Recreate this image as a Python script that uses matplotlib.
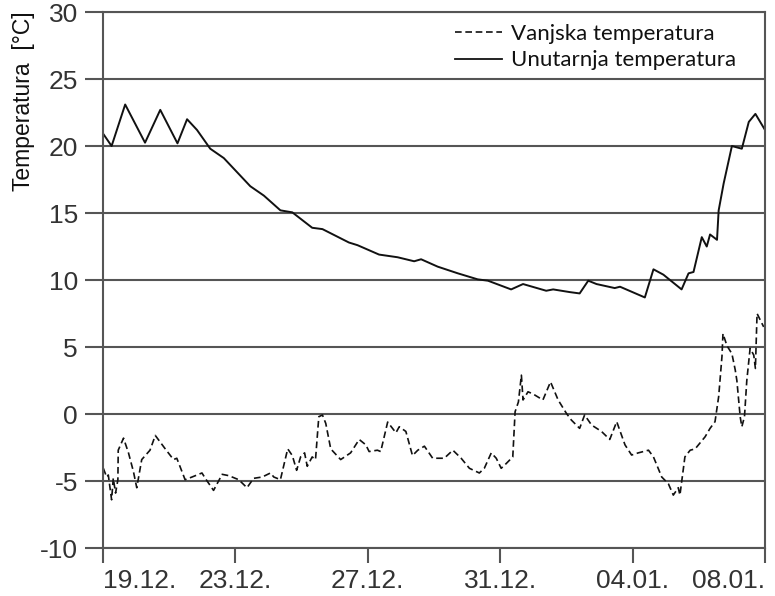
import matplotlib
matplotlib.use('Agg')
import matplotlib.pyplot as plt
from matplotlib.lines import Line2D

plt.rcParams['font.family'] = ['Liberation Sans', 'DejaVu Sans']
plt.rcParams['axes.unicode_minus'] = False

# days after 19.12.
inner_days = [0.01, 0.26, 0.67, 1.27, 1.73, 2.25, 2.54, 2.84, 3.24, 3.65, 4.45, 4.86,
              5.36, 5.72, 6.32, 6.63, 7.43, 7.69, 8.34, 8.90, 9.40, 9.61, 10.11, 10.72,
              11.32, 11.63, 12.33, 12.69, 13.39, 13.60, 14.10, 14.40, 14.66, 14.91, 15.46,
              15.62, 16.37, 16.63, 16.93, 17.48, 17.69, 17.84, 18.09, 18.24, 18.34, 18.55,
              18.60, 18.75, 19.00, 19.30, 19.51, 19.71, 20.00]
inner_temp = [20.9, 20.0, 23.1, 20.25, 22.7, 20.2, 22.0, 21.2, 19.8, 19.1, 17.0, 16.3,
              15.2, 15.05, 13.9, 13.8, 12.8, 12.6, 11.9, 11.7, 11.4, 11.55, 11.0, 10.5,
              10.05, 9.95, 9.3, 9.7, 9.2, 9.3, 9.1, 9.0, 9.95, 9.7, 9.4,
              9.5, 8.7, 10.8, 10.4, 9.3, 10.5, 10.6, 13.2, 12.5, 13.4, 13.0,
              15.2, 17.2, 20.0, 19.8, 21.8, 22.4, 21.2]

outer_days = [0.01, 0.11, 0.16, 0.26, 0.31, 0.38, 0.45, 0.46, 0.62, 0.77, 0.92, 1.02,
              1.17, 1.42, 1.58, 1.73, 1.88, 2.13, 2.23, 2.48, 2.69, 2.99, 3.09, 3.34,
              3.60, 3.80, 4.10, 4.35, 4.55, 4.81, 5.06, 5.16, 5.36, 5.58, 5.72, 5.85,
              5.97, 6.09, 6.17, 6.32, 6.42, 6.52, 6.63, 6.73, 6.88, 7.18, 7.48, 7.74,
              7.94, 8.04, 8.29, 8.39, 8.60, 8.85, 8.95, 9.15, 9.35, 9.51, 9.71, 9.96,
              10.31, 10.57, 10.82, 11.07, 11.37, 11.52, 11.73, 11.88, 12.03, 12.18, 12.38,
              12.45, 12.55, 12.64, 12.69, 12.84, 12.99, 13.29, 13.52, 13.75, 14.00, 14.15,
              14.40, 14.55, 14.76, 15.06, 15.31, 15.52, 15.77, 15.97, 16.17, 16.48, 16.63,
              16.88, 17.08, 17.23, 17.38, 17.43, 17.58, 17.74, 17.89, 18.19, 18.34, 18.49,
              18.60, 18.70, 18.73, 18.85, 19.00, 19.10, 19.15, 19.25, 19.30, 19.38, 19.45,
              19.55, 19.66, 19.71, 19.76, 19.86, 19.96]
outer_temp = [-4.05, -4.7, -4.55, -6.4, -4.8, -5.9, -4.9, -2.7, -1.8, -2.9, -4.3, -5.5,
              -3.4, -2.7, -1.6, -2.1, -2.6, -3.4, -3.3, -4.9, -4.7, -4.4, -4.8, -5.7,
              -4.5, -4.6, -4.9, -5.5, -4.8, -4.7, -4.4, -4.7, -4.9, -2.6, -3.1, -4.2,
              -3.2, -2.9, -3.9, -3.2, -3.4, -0.2, -0.07, -0.7, -2.6, -3.4, -2.9, -1.9,
              -2.3, -2.8, -2.7, -2.8, -0.6, -1.4, -0.95, -1.3, -3.1, -2.7, -2.4, -3.3,
              -3.3, -2.7, -3.3, -4.05, -4.4, -4.05, -2.9, -3.3, -4.05, -3.7, -3.2,
              0.17, 0.9, 2.9, 1.05, 1.66, 1.5, 1.05, 2.4, 1.05, 0.05, -0.45,
              -1.07, -0.07, -0.82, -1.3, -1.9, -0.57, -2.3, -3.06, -2.9, -2.7, -3.2,
              -4.7, -5.2, -6.05, -5.5, -6.05, -3.2, -2.7, -2.6, -1.7, -1.07, -0.57,
              1.3, 4.3, 6.0, 5.1, 4.5, 3.3, 2.5, -0.2, -0.95, -0.2, 2.5,
              4.9, 4.4, 3.4, 7.5, 7.0, 6.5]

x_ticks = [0, 4, 8, 12, 16, 20]
x_labels = ['19.12.', '23.12.', '27.12.', '31.12.', '04.01.', '08.01.']
y_ticks = [-10, -5, 0, 5, 10, 15, 20, 25, 30]
y_labels = ['-10', '-5', '0', '5', '10', '15', '20', '25', '30']

GRID = '#555555'
TXT = '#333333'

fig = plt.figure(figsize=(7.75, 5.96), dpi=100)
fig.patch.set_facecolor('white')
ax = fig.add_axes([0.1329, 0.0805, 0.8542, 0.8993])

ax.plot(outer_days, outer_temp, color='#111111', lw=1.2, linestyle=(0, (4, 2.2)))
ax.plot(inner_days, inner_temp, color='#111111', lw=1.4)

ax.set_xlim(0, 20)
ax.set_ylim(-10, 30)
ax.set_xticks(x_ticks)
ax.set_xticklabels(x_labels)
ax.set_yticks(y_ticks)
ax.set_yticklabels(y_labels)
ax.yaxis.grid(True, color=GRID, lw=1.5)

for s in ax.spines.values():
    s.set_color(GRID)
    s.set_linewidth(1.5)

ax.tick_params(axis='y', length=13, width=1.5, color=GRID, pad=5,
               labelsize=19, labelcolor=TXT)
ax.tick_params(axis='x', length=11, width=1.5, color=GRID, pad=4,
               labelsize=19, labelcolor=TXT)
xl = ax.get_xticklabels()
xl[0].set_ha('left')
xl[-1].set_ha('right')

fig.text(24 / 775, 1 - 101 / 596, 'Temperatura  [°C]', rotation=90,
         ha='center', va='center', fontsize=16.5, color='#111111')

handles = [Line2D([], [], color='#111111', lw=1.2, linestyle=(0, (4, 2.2))),
           Line2D([], [], color='#111111', lw=1.3)]
ax.legend(handles, ['Vanjska temperatura', 'Unutarnja temperatura'],
          loc='upper left', bbox_to_anchor=(0.532, 0.978), frameon=False,
          borderpad=0, borderaxespad=0, handlelength=2.1, handletextpad=0.4,
          labelspacing=0.3, prop={'family': 'Lato', 'size': 16}, labelcolor='#111111')

fig.savefig('out.png', dpi=100)
